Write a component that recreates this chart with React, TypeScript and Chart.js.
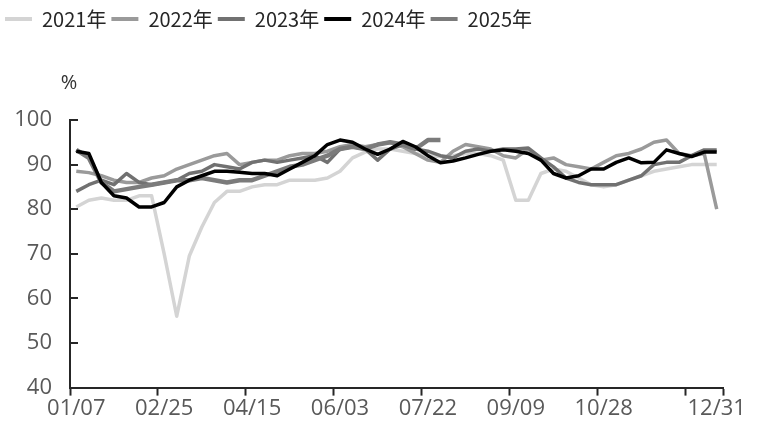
import React, { useEffect, useRef } from 'react';
import { Chart, registerables } from 'chart.js';

Chart.register(...registerables);

// weekly categories
const categories = [
  '01/07', '01/14', '01/21', '01/28', '02/04', '02/11', '02/18', '02/25', '03/04', '03/11',
  '03/18', '03/25', '04/01', '04/08', '04/15', '04/22', '04/29', '05/06', '05/13', '05/20',
  '05/27', '06/03', '06/10', '06/17', '06/24', '07/01', '07/08', '07/15', '07/22', '07/29',
  '08/05', '08/12', '08/19', '08/26', '09/02', '09/09', '09/16', '09/23', '09/30', '10/07',
  '10/14', '10/21', '10/28', '11/04', '11/11', '11/18', '11/25', '12/02', '12/09', '12/16',
  '12/23', '12/31',
];
const shownTicks = ['01/07', '02/25', '04/15', '06/03', '07/22', '09/09', '10/28', '12/31'];
const markedTicks = ['01/07', '02/25', '04/15', '06/03', '07/22', '09/09', '10/28', '12/16'];

const yMin = 40;
const yMax = 100;
const yStep = 10;
const unitLabel = '%';

const seriesNames = ['2021年', '2022年', '2023年', '2024年', '2025年'];

const v2021 = [
  80.5, 82, 82.5, 82, 82, 83, 83, 70, 56, 69.5,
  76, 81.5, 84, 84, 85, 85.5, 85.5, 86.5, 86.5, 86.5,
  87, 88.5, 91.5, 92.8, 93.5, 93.5, 93, 92.5, 92, 91.8,
  92, 92.5, 92.5, 92, 91, 82, 82, 88, 89, 88.5,
  87, 85.5, 85, 85.5, 86.5, 87.5, 88.5, 89, 89.5, 90,
  90, 90,
];
const v2022 = [
  88.5, 88.2, 87.5, 86.5, 86, 86, 87, 87.5, 89, 90,
  91, 92, 92.5, 90, 90.5, 91, 91, 92, 92.5, 92.5,
  93, 94, 94.5, 94, 94.5, 95, 94, 92.5, 91, 90.5,
  93, 94.5, 94, 93.5, 92, 91.5, 93.5, 91, 91.5, 90,
  89.5, 89, 90.5, 92, 92.5, 93.5, 95, 95.5, 92.5, 92,
  92.5, 80,
];
const v2023 = [
  84, 85.5, 86.5, 85.5, 88, 86, 85.5, 86, 86.5, 88,
  88.5, 90, 89.5, 89, 90.5, 91, 90.5, 91, 91.5, 92,
  90.5, 93.5, 94, 93.5, 91, 93.5, 94.5, 93.5, 93, 92,
  91.5, 93, 93.5, 93, 93.5, 93.5, 93.7, 91.5, 89.5, 87,
  86, 85.5, 85.5, 85.5, 86.5, 87.5, 90, 90.5, 90.5, 92,
  93.3, 93.3,
];
const v2024 = [
  93, 92.5, 86, 83, 82.5, 80.5, 80.5, 81.5, 85, 86.5,
  87.5, 88.5, 88.5, 88.3, 88, 88, 87.5, 89, 90.5, 92,
  94.5, 95.5, 95, 93.5, 92.3, 93.5, 95.2, 94, 92, 90.4,
  90.8, 91.5, 92.3, 93, 93.3, 93, 92.5, 91, 88, 87,
  87.5, 89, 89, 90.5, 91.5, 90.4, 90.5, 93.3, 92.5, 91.8,
  92.8, 92.8,
];
const v2025 = [
  93.3, 91.5, 86, 84, 84.5, 85, 85.5, 86, 86.5, 86.5,
  87, 86.5, 86, 86.5, 86.5, 87.5, 88.5, 89.5, 90, 91,
  92, 93.5, 94, 93.5, 94.5, 95, 94.5, 93.5, 95.5, 95.5,
];

const seriesValues = [v2021, v2022, v2023, v2024, v2025];
const seriesColors = ['#d4d4d4', '#9a9a9a', '#717171', '#000000', '#7b7b7b'];
const seriesWidths = [3.5, 3.5, 3.5, 3.5, 4.5];
const seriesOrder = [5, 4, 3, 1, 2];

const axisColor = '#262626';
const labelColor = '#595959';
const FONT = '"Open Sans", "Noto Sans CJK SC", sans-serif';
const LEGEND_FONT = '"Noto Sans CJK SC", "Open Sans", sans-serif';

const decorPlugin = {
  id: 'decor',
  afterDraw(chart: any) {
    const { ctx, chartArea, scales } = chart;
    const y = scales.y;
    ctx.save();
    // inner tick marks on the y axis
    ctx.strokeStyle = axisColor;
    ctx.lineWidth = 2;
    y.ticks.forEach((t: any) => {
      const py = Math.round(y.getPixelForValue(t.value));
      ctx.beginPath();
      ctx.moveTo(chartArea.left, py);
      ctx.lineTo(chartArea.left + 8, py);
      ctx.stroke();
    });
    // unit label
    ctx.fillStyle = '#333333';
    ctx.font = `20px ${FONT}`;
    ctx.textAlign = 'center';
    ctx.textBaseline = 'middle';
    ctx.fillText(unitLabel, chartArea.left - 1, chartArea.top - 37);
    ctx.restore();
  },
};

export default function App() {
  const ref = useRef<HTMLCanvasElement | null>(null);

  useEffect(() => {
    if (!ref.current) return;
    const chart = new Chart(ref.current, {
      type: 'line',
      data: {
        labels: categories,
        datasets: seriesNames.map((name, i) => ({
          label: name,
          data: seriesValues[i],
          borderColor: seriesColors[i],
          backgroundColor: seriesColors[i],
          borderWidth: seriesWidths[i],
          pointRadius: 0,
          pointHoverRadius: 0,
          tension: 0,
          fill: false,
          borderJoinStyle: 'round' as const,
          borderCapStyle: 'butt' as const,
          order: seriesOrder[i],
        })),
      },
      options: {
        responsive: false,
        animation: false,
        layout: { padding: { left: 0, right: 37, top: 4, bottom: 10 } },
        plugins: {
          tooltip: { enabled: false },
          legend: {
            display: true,
            position: 'top',
            align: 'start',
            labels: {
              boxWidth: 27,
              boxHeight: 4,
              padding: 5,
              color: '#262626',
              font: { family: LEGEND_FONT, size: 20 },
              sort: (a: any, b: any) => a.datasetIndex - b.datasetIndex,
              generateLabels: (c: any) =>
                Chart.defaults.plugins.legend.labels
                  .generateLabels(c)
                  .map((it: any) => ({ ...it, lineWidth: 0, fillStyle: it.strokeStyle })),
            },
          },
          title: {
            display: true,
            text: '',
            weight: 500,
            font: { size: 10, lineHeight: 1 },
            padding: { top: 0, bottom: 71 },
          } as any,
        },
        scales: {
          x: {
            type: 'category',
            offset: true,
            grid: {
              offset: true,
              drawOnChartArea: false,
              drawTicks: true,
              tickLength: 8,
              tickWidth: 2,
              tickColor: (ctx: any) =>
                ctx.index === undefined || markedTicks.includes(categories[ctx.index])
                  ? axisColor
                  : 'rgba(0,0,0,0)',
            },
            border: { display: true, color: axisColor, width: 2 },
            ticks: {
              autoSkip: false,
              maxRotation: 0,
              minRotation: 0,
              padding: 0,
              color: labelColor,
              font: { family: FONT, size: 22 },
              callback: (_v: any, i: number) =>
                shownTicks.includes(categories[i]) ? categories[i] : '',
            },
          },
          y: {
            min: yMin,
            max: yMax,
            grid: { drawOnChartArea: false, drawTicks: false },
            border: { display: true, color: axisColor, width: 2 },
            afterFit: (s: any) => {
              s.width = 70;
            },
            ticks: {
              stepSize: yStep,
              padding: 18,
              color: labelColor,
              font: { family: FONT, size: 22 },
            },
          },
        },
      },
      plugins: [decorPlugin],
    });
    return () => chart.destroy();
  }, []);

  return (
    <div style={{ position: 'fixed', left: 0, top: 0, width: 760, height: 432, background: '#ffffff' }}>
      <canvas ref={ref} width={760} height={432} style={{ display: 'block' }} />
    </div>
  );
}
